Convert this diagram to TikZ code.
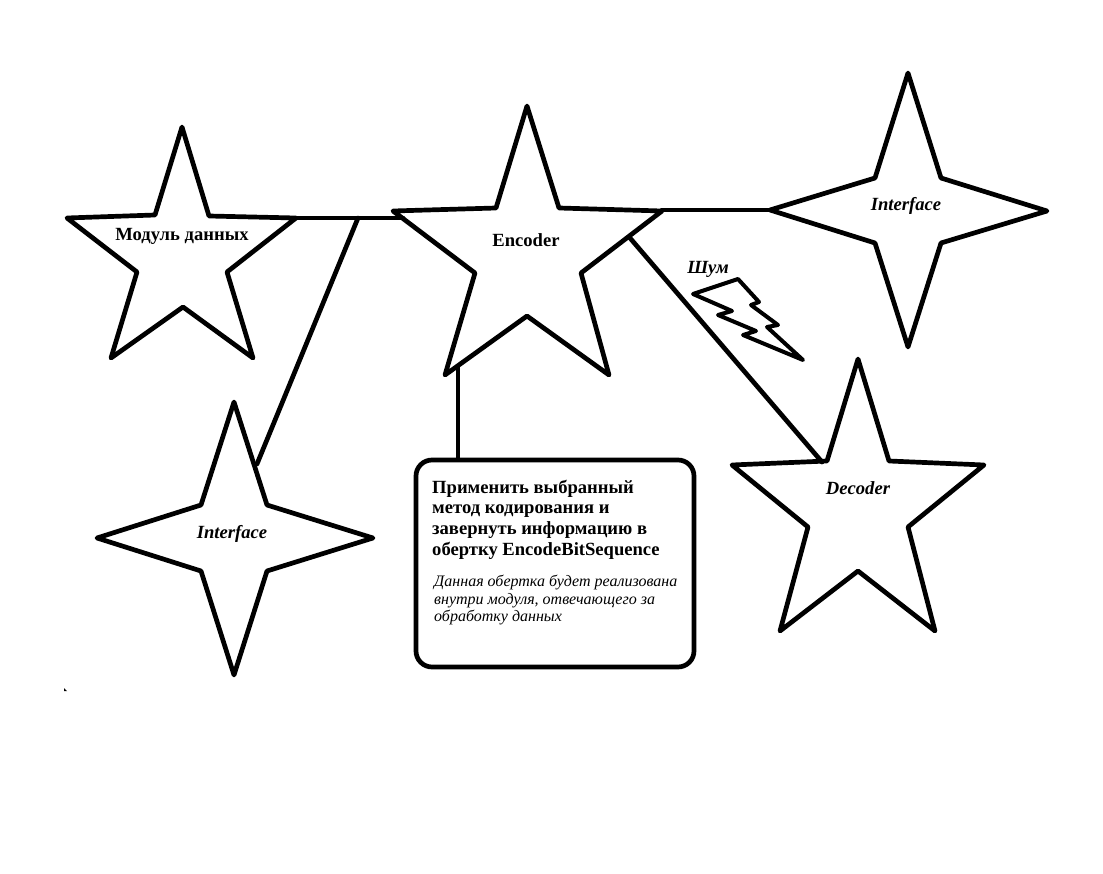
\documentclass[tikz,border=0pt]{standalone}
\usepackage{fontspec}
\setmainfont{Liberation Serif}
\tikzset{
    figure/.style={line width=4.7pt, line join=round, line cap=round},
    link/.style={line width=4.7pt, line cap=round},
    boldlabel/.style={font=\fontsize{18.6}{20}\selectfont\bfseries, inner sep=0pt},
    slantlabel/.style={font=\fontsize{18.6}{20}\selectfont\bfseries\itshape, inner sep=0pt},
    headtext/.style={font=\fontsize{18.6}{20.8}\selectfont\bfseries, align=left, anchor=north west, inner sep=0pt},
    notetext/.style={font=\fontsize{16}{17.5}\selectfont\itshape, align=left, anchor=north west, inner sep=0pt},
    card/.style={draw, line width=4.7pt, rounded corners=16pt, minimum width=278pt, minimum height=207pt, inner sep=0pt}
}
\begin{document}
\begin{tikzpicture}[x=1pt, y=-1pt]
    \useasboundingbox (0,0) rectangle (1103,874);

    % module star
    \draw[figure] (182,127) -- (209,216) -- (296,218) coordinate (moduleTip) -- (227,272) -- (253,358)
        -- (183,307) -- (111,358) -- (137,272) -- (67,218) -- (155,215) -- cycle;
    \node[boldlabel] (moduleLabel) at (182,236) {Модуль данных};

    % encoder star
    \draw[figure] (527,106) -- (559,208) -- (662,211) coordinate (encoderRight) -- (581,273) -- (609,375)
        -- (527,316) -- (445,375) -- (475,273) -- (393,211) -- (496,208) -- cycle;
    \node[boldlabel] (encoderLabel) at (526,240) {Encoder};

    % right interface star
    \draw[figure] (908,73) -- (941,178) -- (1047,211) -- (941,243) -- (908,347)
        -- (875,243) -- (770,210) coordinate (rightLeft) -- (875,178) -- cycle;
    \node[slantlabel] (rightLabel) at (906,206) {Interface};

    % left interface star
    \draw[figure] (234,402) -- (267,505) -- (373,538) -- (267,571) -- (234,675)
        -- (201,571) -- (97,538) -- (201,505) -- cycle;
    \node[slantlabel] (leftLabel) at (232,534) {Interface};

    % decoder star
    \draw[figure] (858,359) -- (889,461) -- (984,465) -- (908,527) -- (935,631)
        -- (858,571) -- (780,631) -- (808,527) -- (732,465) -- (827,461) -- cycle;
    \node[slantlabel] (decoderLabel) at (858,488) {Decoder};

    % noise
    \draw[line width=4pt, line join=round, line cap=round] (693,294) -- (738,279) -- (759,302) -- (751,305) -- (778,325)
        -- (767,327) -- (803,360) -- (743,335) -- (756,331) -- (718,315) -- (732,311) -- cycle;
    \node[slantlabel] (noiseLabel) at (708,269) {Шум};

    % box
    \node[card] (applyBox) at (555,563.5) {};
    \node[headtext] (applyHead) at (432,479.5) {Применить выбранный\\метод кодирования и\\завернуть информацию в\\обертку EncodeBitSequence};
    \node[notetext] (applyNote) at (434,575) {Данная обертка будет реализована\\внутри модуля, отвечающего за\\обработку данных};

    % connections
    \coordinate (encoderLeft) at (403,218);
    \coordinate (moduleBranch) at (358,218);
    \coordinate (leftTop) at (257,464);
    \coordinate (encoderEdge) at (630,238);
    \coordinate (decoderEdge) at (822,462);
    \coordinate (encoderFoot) at (458,366);
    \draw[link] (moduleTip) -- (encoderLeft);
    \draw[link] (moduleBranch) -- (leftTop);
    \draw[link] (encoderRight |- rightLeft) -- (rightLeft);
    \draw[link] (encoderEdge) -- (decoderEdge);
    \draw[link] (encoderFoot) -- (encoderFoot |- applyBox.north);

    % stray speck
    \fill (64,688) -- (67,691) -- (64,691) -- cycle;
\end{tikzpicture}
\end{document}
